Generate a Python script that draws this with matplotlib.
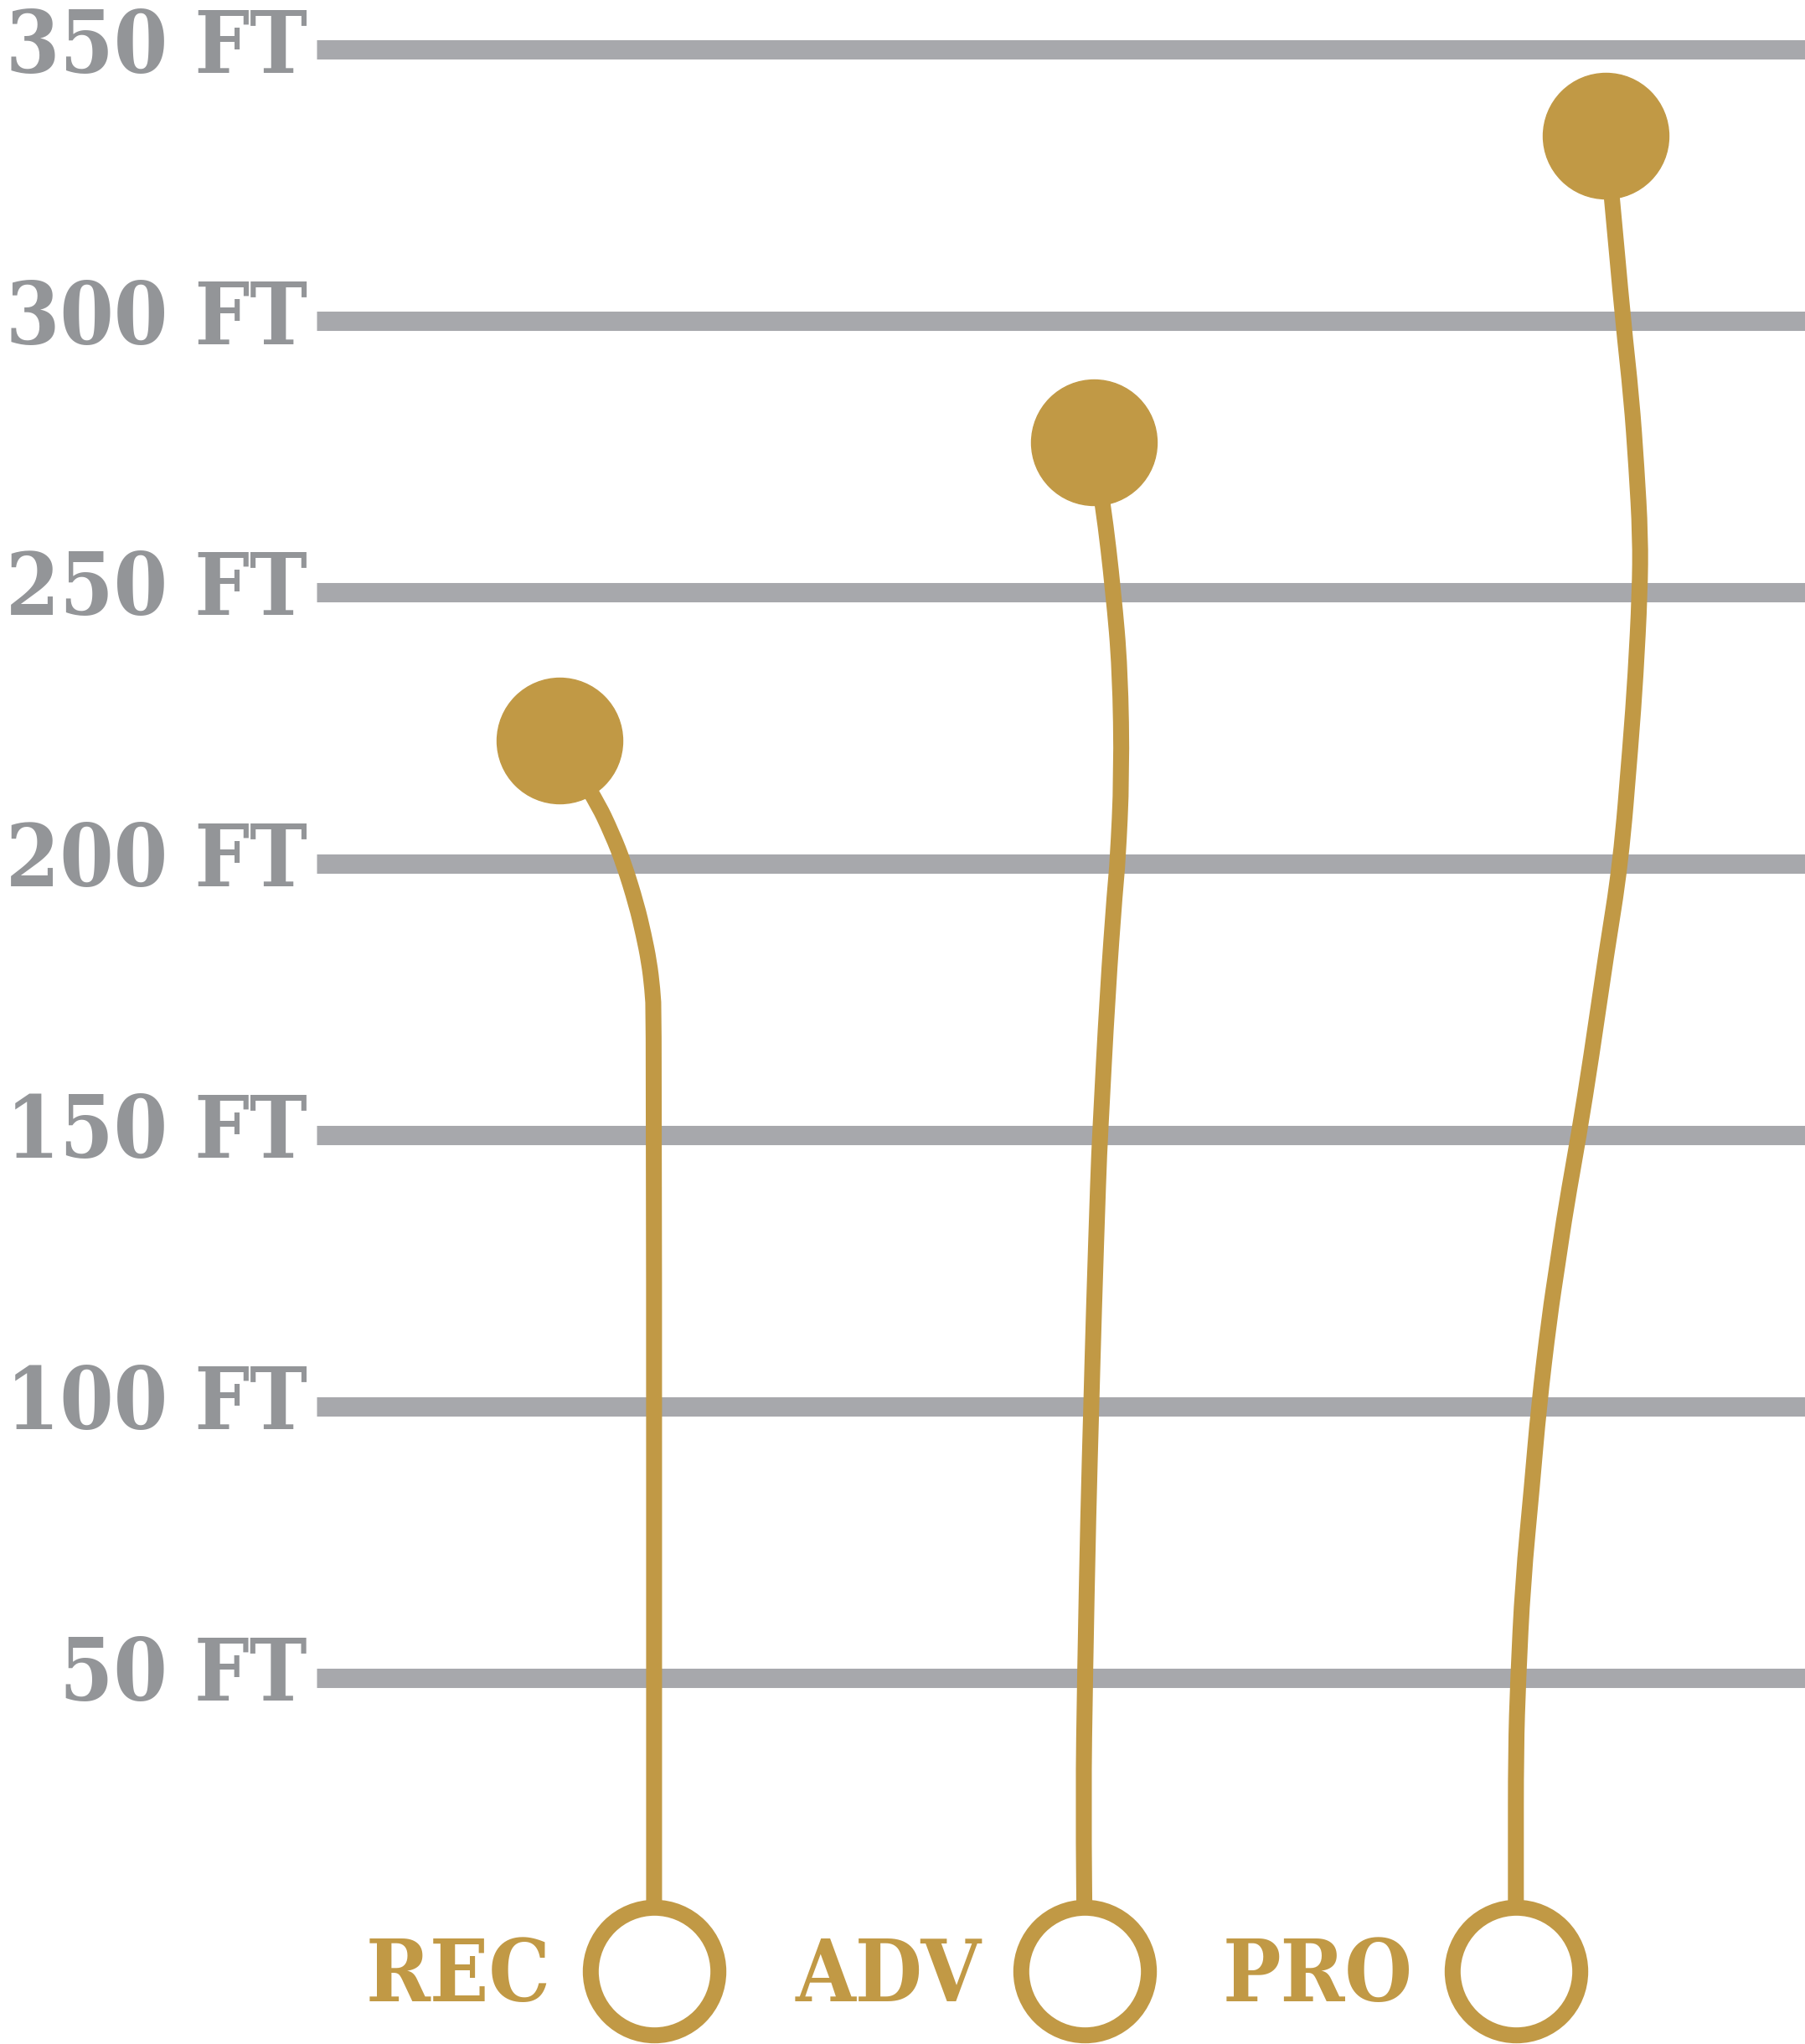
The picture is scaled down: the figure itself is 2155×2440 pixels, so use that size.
import numpy as np
import matplotlib.pyplot as plt
from matplotlib.path import Path
from matplotlib.patches import PathPatch

# categories and the height each one reaches (ft)
categories = ["REC", "ADV", "PRO"]
max_height_ft = [222.7, 277.7, 334.2]

# height gridlines
grid_ft = [50, 100, 150, 200, 250, 300, 350]
grid_labels = ["50 FT", "100 FT", "150 FT", "200 FT", "250 FT", "300 FT", "350 FT"]

# the string of each one: heights (ft) and sideways drift (in category widths)
rec_heights = [172, 177, 182, 187, 192.5, 200, 205.5, 212]
rec_drift = [0, -0.0039, -0.0117, -0.0243, -0.0408, -0.070, -0.0972, -0.136]

adv_heights = [28, 50, 81, 100, 117, 143, 150, 176.3, 195.6, 200.2, 216.4, 235.7, 250, 265.9]
adv_drift = [-0.0039, 0, 0.0078, 0.0146, 0.0204, 0.0311, 0.035, 0.0525, 0.070, 0.0758,
             0.0855, 0.0816, 0.0661, 0.0428]

pro_heights = [16.1, 36.6, 49.7, 67.5, 85.5, 99.9, 116.4, 126.6, 136.9, 149.9, 164.4, 183.5,
               199.9, 222.0, 234.7, 250.0, 260.4, 273.1, 285.9, 300.0, 322.4]
pro_drift = [0, 0, 0.0052, 0.0161, 0.0375, 0.0531, 0.0777, 0.0972, 0.1166, 0.1458, 0.1749,
             0.2099, 0.2430, 0.2663, 0.2779, 0.2877, 0.2890, 0.2799, 0.2682, 0.2488, 0.2235]

top_drift = [-0.219, 0.020, 0.2086]
ground_ft = -4.0

GOLD = "#c19945"
GRID = "#a7a8ac"
LABEL = "#939598"
FONT = dict(family="DejaVu Serif", weight="bold", stretch="condensed", fontsize=74)


def smooth_path(xs, ys):
    # quadratic b-spline through the waypoints (waypoints act as control points)
    pts = np.column_stack([xs, ys])
    verts = [pts[0], pts[1]]
    codes = [Path.MOVETO, Path.LINETO]
    for i in range(1, len(pts) - 2):
        verts += [pts[i], (pts[i] + pts[i + 1]) / 2]
        codes += [Path.CURVE3, Path.CURVE3]
    verts += [pts[-2], pts[-1]]
    codes += [Path.CURVE3, Path.CURVE3]
    verts[1] = (pts[0] + pts[1]) / 2
    return Path(verts, codes)


fig = plt.figure(figsize=(21.55, 24.40), dpi=100)
ax = fig.add_axes([0, 0, 1, 1])
ax.set_xlim(-1.518, 2.671)
ax.set_ylim(-17.4, 359.15)
ax.axis("off")

ax.hlines(grid_ft, -0.783, 2.671, colors=GRID, linewidth=16.6, zorder=1)
for lab, y in zip(grid_labels, grid_ft):
    ax.text(-0.805, y - 4.2, lab, ha="right", va="baseline", color=LABEL, **FONT)

paths = [(rec_heights, rec_drift), (adv_heights, adv_drift), (pro_heights, pro_drift)]
positions = np.arange(len(categories))

for i, (h, d) in enumerate(paths):
    ys = [ground_ft] + h + [max_height_ft[i]]
    xs = i + np.array([0] + d + [top_drift[i]])
    ax.add_patch(PathPatch(smooth_path(xs, ys), fill=False, edgecolor=GOLD, lw=13.7,
                           capstyle="butt", joinstyle="round", zorder=2))

# balloons at the top
ax.plot(positions + np.array(top_drift), max_height_ft, "o", ms=108, color=GOLD,
        ls="none", zorder=3)
# rings at the bottom
ax.plot(positions, [ground_ft] * len(categories), "o", ms=109.7, mfc="white",
        mec=GOLD, mew=13.7, ls="none", zorder=3)

for i, cat in enumerate(categories):
    ax.text(i - 0.24, -9.5, cat, ha="right", va="baseline", color=GOLD, **FONT)

fig.savefig("out.png", dpi=100)
